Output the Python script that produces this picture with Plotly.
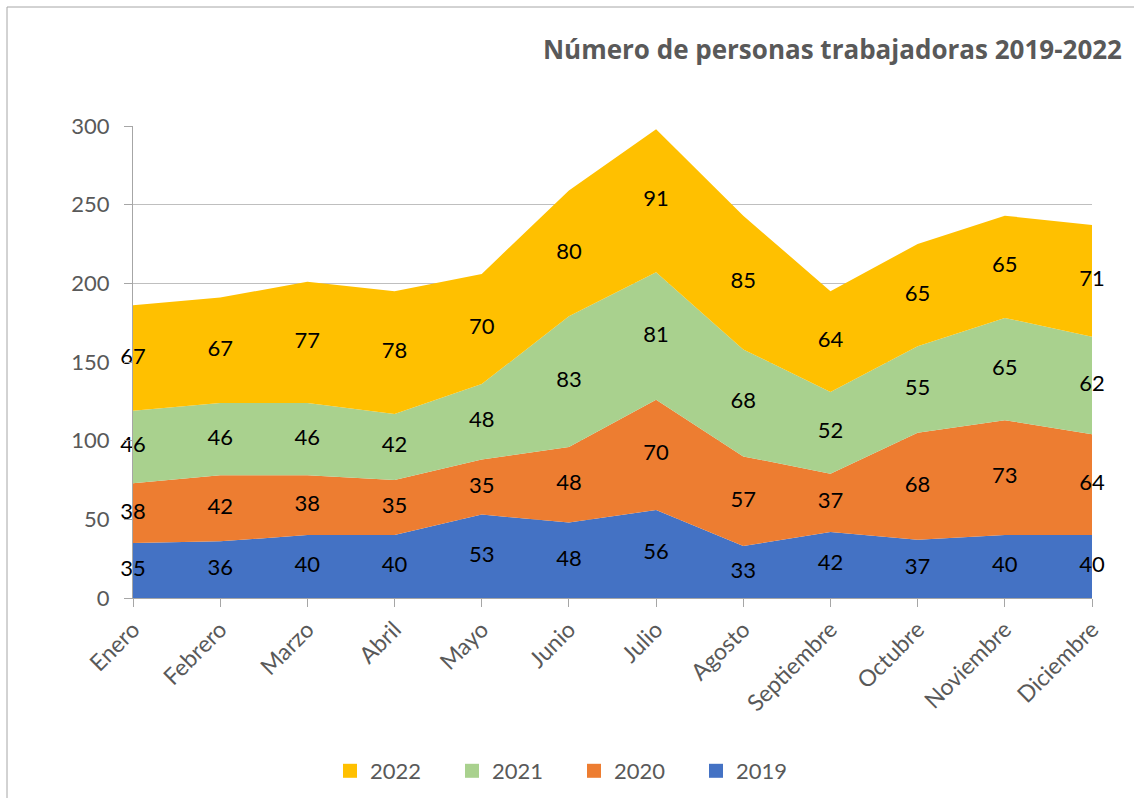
import plotly.graph_objects as go

months = ["Enero", "Febrero", "Marzo", "Abril", "Mayo", "Junio", "Julio",
          "Agosto", "Septiembre", "Octubre", "Noviembre", "Diciembre"]
v2019 = [35, 36, 40, 40, 53, 48, 56, 33, 42, 37, 40, 40]
v2020 = [38, 42, 38, 35, 35, 48, 70, 57, 37, 68, 73, 64]
v2021 = [46, 46, 46, 42, 48, 83, 81, 68, 52, 55, 65, 62]
v2022 = [67, 67, 77, 78, 70, 80, 91, 85, 64, 65, 65, 71]

series = [("2019", v2019, "#4472C4"), ("2020", v2020, "#ED7D31"),
          ("2021", v2021, "#A9D18E"), ("2022", v2022, "#FFC000")]

FONT = "Lato"
fig = go.Figure()
base = [0] * len(months)
label_x, label_y, label_t = [], [], []
for name, vals, col in series:
    fig.add_trace(go.Scatter(
        x=months, y=vals, name=name, stackgroup="one", mode="none",
        fillcolor=col, line=dict(width=0), hoverinfo="x+y+name",
        showlegend=False))
    for i, v in enumerate(vals):
        label_x.append(months[i])
        label_y.append(base[i] + v / 2)
        label_t.append(str(v))
    base = [b + v for b, v in zip(base, vals)]

# legend entries (square markers, as in the reference)
for name, vals, col in series:
    fig.add_trace(go.Scatter(
        x=[None], y=[None], mode="markers", name=name,
        marker=dict(symbol="square", size=14, color=col)))

fig.add_trace(go.Scatter(
    x=label_x, y=label_y, text=label_t, mode="text", showlegend=False,
    textfont=dict(family=FONT, size=22, color="#000000"),
    cliponaxis=False, hoverinfo="skip"))

L, R, T, B = 133, 1092, 126, 598
W, H = R - L, B - T

fig.update_layout(
    width=1134, height=798,
    margin=dict(l=L, r=1134 - R, t=T, b=798 - B, autoexpand=False),
    paper_bgcolor="white", plot_bgcolor="white",
    font=dict(family=FONT, color="#595959"),
    title=dict(text="<b>Número de personas trabajadoras 2019-2022</b>",
               xref="container", x=1122 / 1134, xanchor="right",
               yref="container", y=1 - 50 / 798, yanchor="middle",
               font=dict(family="Open Sans", size=26, color="#595959")),
    xaxis=dict(type="category", range=[0, 11], showgrid=False,
               showline=True, linecolor="#a6a6a6", linewidth=1,
               ticks="outside", ticklen=8, tickcolor="#a6a6a6",
               automargin=False,
               tickangle=-45, tickfont=dict(size=23, color="#595959")),
    yaxis=dict(range=[0, 300], dtick=50, showgrid=True, gridcolor="#bfbfbf",
               gridwidth=1, showline=True, linecolor="#a6a6a6", linewidth=1,
               ticks="outside", ticklen=8, tickcolor="#a6a6a6",
               zeroline=False, ticklabelstandoff=10, automargin=False,
               tickfont=dict(size=22, color="#595959")),
    legend=dict(orientation="h", traceorder="reversed",
                x=(330 - L) / W, xanchor="left",
                y=(B - 771) / H, yanchor="middle",
                font=dict(size=22, color="#595959"),
                itemwidth=30, entrywidth=77, entrywidthmode="pixels"),
    shapes=[dict(type="rect", xref="paper", yref="paper",
                 x0=(7 - L) / W, x1=(1200 - L) / W,
                 y0=(B - 900) / H, y1=(B - 7) / H,
                 line=dict(color="#a6a6a6", width=1), layer="below")],
)

fig.write_html("out.html", config={"displayModeBar": False},
               post_script="document.body.style.margin='0';")
